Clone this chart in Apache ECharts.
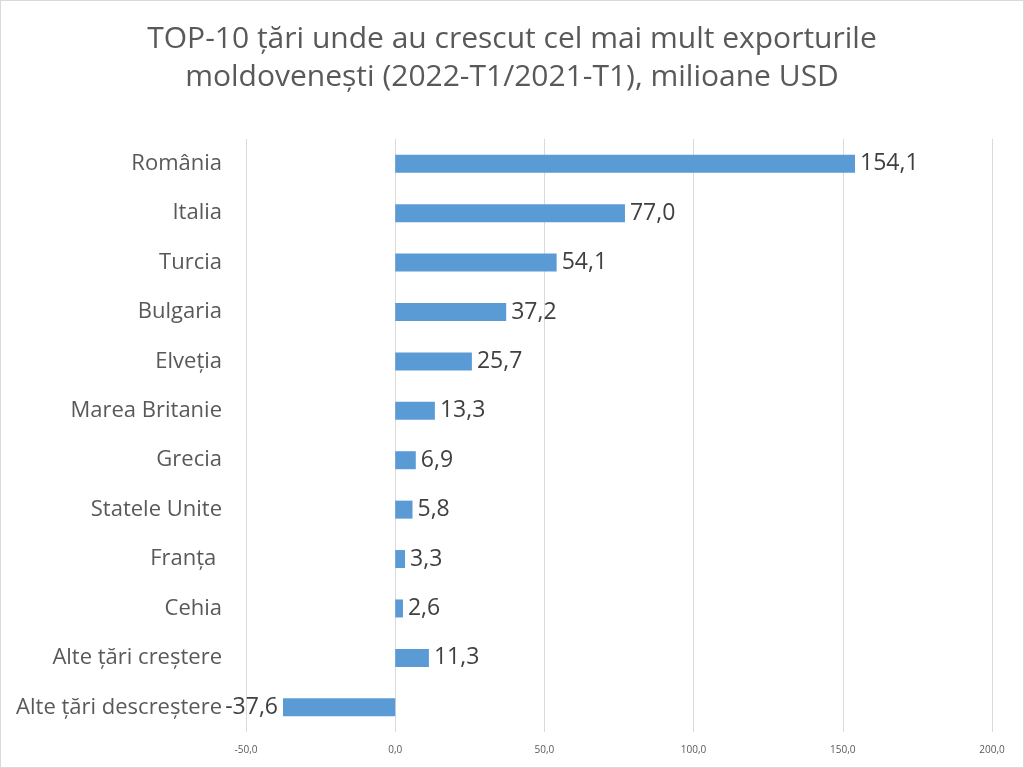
<!DOCTYPE html>
<html>
<head>
<meta charset="utf-8">
<script src="https://cdn.jsdelivr.net/npm/echarts@6/dist/echarts.min.js"></script>
<style>
  html, body { margin: 0; padding: 0; background: #fff; }
  #main { width: 1024px; height: 768px; box-sizing: border-box; border: 1px solid #d9d9d9; }
</style>
</head>
<body>
<div id="main"></div>
<script>
var categories = ['România', 'Italia', 'Turcia', 'Bulgaria', 'Elveția', 'Marea Britanie',
  'Grecia', 'Statele Unite', 'Franța ', 'Cehia', 'Alte țări creștere', 'Alte țări descreștere'];
var values = [154.1, 77.0, 54.1, 37.2, 25.7, 13.3, 6.9, 5.8, 3.3, 2.6, 11.3, -37.6];
var axisMin = -50, axisMax = 200, axisStep = 50;

function comma(v) { return v.toFixed(1).replace('.', ','); }

var chart = echarts.init(document.getElementById('main'));
chart.setOption({
  animation: false,
  title: {
    text: 'TOP-10 țări unde au crescut cel mai mult exporturile\nmoldovenești (2022-T1/2021-T1), milioane USD',
    left: 'center',
    top: 14,
    textStyle: { fontFamily: 'Open Sans', fontSize: 30, fontWeight: 'normal', color: '#595959', lineHeight: 38 }
  },
  grid: { left: 245, right: 31, top: 138, bottom: 35 },
  xAxis: {
    type: 'value',
    min: axisMin, max: axisMax, interval: axisStep,
    axisLine: { show: false },
    axisTick: { show: false },
    splitLine: { lineStyle: { color: '#d9d9d9' } },
    axisLabel: { formatter: comma, fontFamily: 'Open Sans', fontSize: 10, color: '#595959', margin: 13 }
  },
  yAxis: {
    type: 'category',
    data: categories,
    inverse: true,
    axisLine: { show: false },
    axisTick: { show: false },
    axisLabel: { fontFamily: 'Open Sans', fontSize: 22, color: '#595959', margin: 24 }
  },
  series: [{
    type: 'bar',
    barWidth: 18,
    itemStyle: { color: '#5b9bd5' },
    data: values.map(function (v) {
      return { value: v, label: { position: v < 0 ? 'left' : 'right' } };
    }),
    label: {
      show: true,
      distance: 5,
      formatter: function (p) { return comma(p.value); },
      fontFamily: 'Open Sans', fontSize: 23, color: '#404040'
    }
  }]
});
</script>
</body>
</html>
